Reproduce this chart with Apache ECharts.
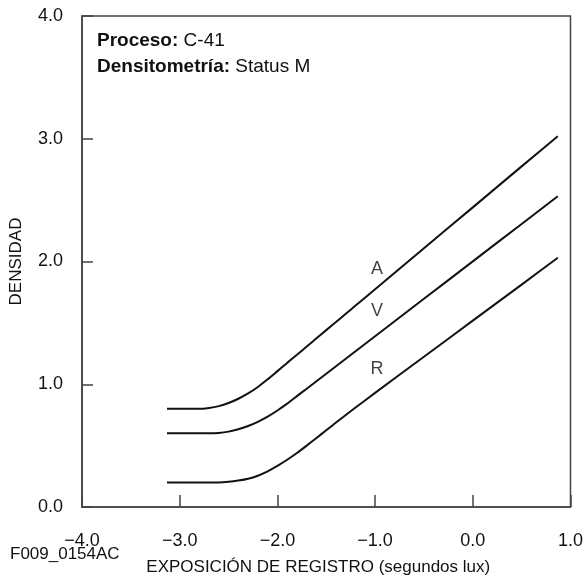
<!DOCTYPE html>
<html>
<head>
<meta charset="utf-8">
<script src="https://cdn.jsdelivr.net/npm/echarts@6/dist/echarts.min.js"></script>
<style>
html,body{margin:0;padding:0;background:#fff;}
#chart{width:586px;height:581px;}
</style>
</head>
<body>
<div id="chart"></div>
<script>
// Log exposure values (x) shared by the three curves
const exposure = [-3.13, -2.9, -2.8, -2.7, -2.6, -2.5, -2.4, -2.3, -2.2, -2.1, -2.0, -1.9, -1.8, -1.7, -1.6, -1.5, -1.4, -1.3, -1.2, -1.0, -0.5, 0.0, 0.5, 0.87];
// Density values
const densityA = [0.80, 0.80, 0.80, 0.807, 0.822, 0.847, 0.882, 0.925, 0.978, 1.040, 1.107, 1.174, 1.240, 1.307, 1.374, 1.441, 1.507, 1.574, 1.641, 1.774, 2.108, 2.441, 2.775, 3.02];
const densityV = [0.60, 0.60, 0.60, 0.60, 0.603, 0.614, 0.633, 0.660, 0.694, 0.736, 0.786, 0.842, 0.903, 0.964, 1.025, 1.086, 1.147, 1.208, 1.269, 1.391, 1.696, 2.001, 2.306, 2.532];
const densityR = [0.20, 0.20, 0.20, 0.20, 0.20, 0.205, 0.215, 0.23, 0.255, 0.29, 0.335, 0.385, 0.44, 0.50, 0.562, 0.625, 0.688, 0.75, 0.81, 0.93, 1.224, 1.518, 1.812, 2.03];

// Curve labels
const curveNames = ['A', 'V', 'R'];
const curveLabelX = [-0.98, -0.98, -0.98];
const curveLabelY = [1.935, 1.595, 1.125];

// Tick labels
const xTicks = [-4, -3, -2, -1, 0, 1];
const xTickLabels = ['\u22124.0', '\u22123.0', '\u22122.0', '\u22121.0', '0.0', '1.0'];
const yTicks = [0, 1, 2, 3, 4];
const yTickLabels = ['0.0', '1.0', '2.0', '3.0', '4.0'];

const FONT = '"Liberation Sans", Arial, Helvetica, sans-serif';
const toPairs = (ys) => exposure.map((x, i) => [x, ys[i]]);

const chart = echarts.init(document.getElementById('chart'), null, {renderer: 'canvas'});
const lineStyle = {color: '#111', width: 2};

chart.setOption({
  animation: false,
  backgroundColor: '#fff',
  textStyle: {fontFamily: FONT},
  grid: {left: 81, top: 16, width: 492, height: 492, show: true, borderColor: '#444', borderWidth: 1.5, backgroundColor: 'transparent'},
  xAxis: {
    type: 'value', min: -4, max: 1, interval: 1,
    name: 'EXPOSICIÓN DE REGISTRO (segundos lux)',
    nameLocation: 'middle', nameGap: 52,
    nameTextStyle: {fontFamily: FONT, fontSize: 17, color: '#111', padding: [0, 16, 0, 0]},
    axisLine: {show: true, onZero: false, lineStyle: {color: '#444', width: 1.5}},
    axisTick: {show: true, inside: true, length: 12, lineStyle: {color: '#444', width: 1.5}},
    splitLine: {show: false},
    axisLabel: {
      margin: 25, fontFamily: FONT, fontSize: 18, color: '#111',
      formatter: (v) => { const i = xTicks.indexOf(Math.round(v)); return i >= 0 ? xTickLabels[i] : ''; }
    }
  },
  yAxis: {
    type: 'value', min: 0, max: 4, interval: 1,
    name: 'DENSIDAD',
    nameLocation: 'middle', nameGap: 57, nameRotate: 90,
    nameTextStyle: {fontFamily: FONT, fontSize: 17, color: '#111'},
    axisLine: {show: true, onZero: false, lineStyle: {color: '#444', width: 1.5}},
    axisTick: {show: true, inside: true, length: 11, lineStyle: {color: '#444', width: 1.5}},
    splitLine: {show: false},
    axisLabel: {
      margin: 19, fontFamily: FONT, fontSize: 18, color: '#111',
      formatter: (v) => { const i = yTicks.indexOf(Math.round(v)); return i >= 0 ? yTickLabels[i] : ''; }
    }
  },
  graphic: [
    {type: 'text', left: 97, top: 31, style: {text: '{b|Proceso:} C-41', font: '19px ' + FONT, fill: '#111',
      rich: {b: {fontWeight: 'bold', fontSize: 19, fontFamily: FONT, fill: '#111'}}}},
    {type: 'text', left: 97, top: 57, style: {text: '{b|Densitometría:} Status M', font: '19px ' + FONT, fill: '#111',
      rich: {b: {fontWeight: 'bold', fontSize: 19, fontFamily: FONT, fill: '#111'}}}},
    {type: 'text', left: 10, top: 546, style: {text: 'F009_0154AC', font: '17px ' + FONT, fill: '#111'}}
  ],
  series: [
    {type: 'line', name: 'A', data: toPairs(densityA), showSymbol: false, symbol: 'none', smooth: 0.2, lineStyle: lineStyle},
    {type: 'line', name: 'V', data: toPairs(densityV), showSymbol: false, symbol: 'none', smooth: 0.2, lineStyle: lineStyle},
    {type: 'line', name: 'R', data: toPairs(densityR), showSymbol: false, symbol: 'none', smooth: 0.2, lineStyle: lineStyle},
    {type: 'scatter', symbolSize: 0, silent: true,
      data: curveNames.map((n, i) => ({name: n, value: [curveLabelX[i], curveLabelY[i]]})),
      label: {show: true, position: 'inside', formatter: (p) => p.name, fontFamily: FONT, fontSize: 18, color: '#111'}}
  ]
});
</script>
</body>
</html>
